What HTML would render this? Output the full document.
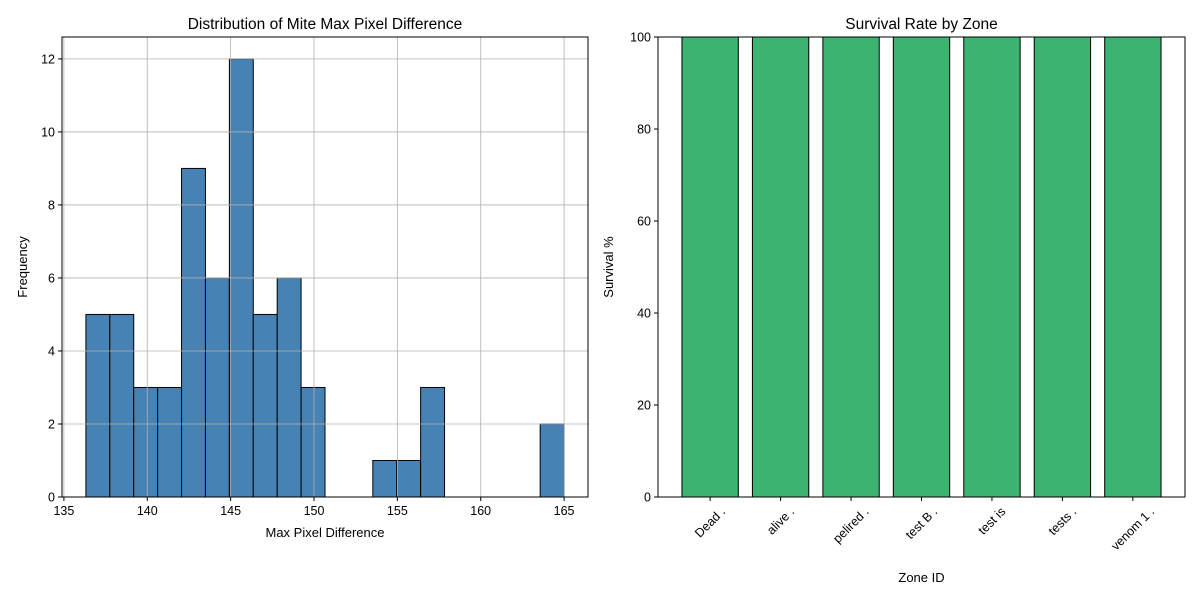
<!DOCTYPE html>
<html><head><meta charset="utf-8"><style>
body{margin:0;background:#fff}
svg{display:block;font-family:"Liberation Sans","DejaVu Sans",sans-serif}
</style></head><body>
<svg id="c" width="1200" height="600" viewBox="0 0 1200 600" xmlns="http://www.w3.org/2000/svg"></svg>
<script>
const histCounts=[5,5,3,3,9,6,12,5,6,3,0,0,1,1,3,0,0,0,0,2];
const histMin=136.32, histMax=165.0;
const histXTicks=[135,140,145,150,155,160,165];
const histYTicks=[0,2,4,6,8,10,12];
const zones=["Dead .","alive .","pelired .","test B .","test is","tests .","venom 1 ."];
const survival=[100,100,100,100,100,100,100];
const survYTicks=[0,20,40,60,80,100];

const NS="http://www.w3.org/2000/svg";
const svg=document.getElementById('c');
function mk(tag,attrs,parent,text){const e=document.createElementNS(NS,tag);for(const k in attrs)e.setAttribute(k,attrs[k]);if(text!==undefined)e.textContent=text;(parent||svg).appendChild(e);return e;}

// Left histogram
const L={x0:62,x1:588,y0:37,y1:497};
const span=histMax-histMin, xmin=histMin-span*0.05, xmax=histMax+span*0.05;
const hx=v=>L.x0+(v-xmin)/(xmax-xmin)*(L.x1-L.x0);
const ymaxH=Math.max(...histCounts)*1.05;
const hy=v=>L.y1-v/ymaxH*(L.y1-L.y0);
const gL=mk('g',{});

const bw=span/histCounts.length;
histCounts.forEach((c,i)=>{
  const a=histMin+i*bw,b=a+bw;
  const r=mk('rect',{x:hx(a),y:hy(c),width:hx(b)-hx(a),height:hy(0)-hy(c),fill:'#4682b4',stroke:'#000','stroke-width':1},gL);
  
  
});
histXTicks.forEach(t=>{
  const x=hx(t);
  const g=mk('line',{x1:x,x2:x,y1:L.y0,y2:L.y1,stroke:'#b0b0b0','stroke-width':0.8},gL);
  
  mk('line',{x1:x,x2:x,y1:L.y1,y2:L.y1+4,stroke:'#000'},gL);
  const tx=mk('text',{x:x,y:L.y1+18,'text-anchor':'middle','font-size':12.5},gL,t);
  
});
histYTicks.forEach(t=>{
  const y=hy(t);
  const g=mk('line',{x1:L.x0,x2:L.x1,y1:y,y2:y,stroke:'#b0b0b0','stroke-width':0.8},gL);
  
  mk('line',{x1:L.x0-4,x2:L.x0,y1:y,y2:y,stroke:'#000'},gL);
  const tx=mk('text',{x:L.x0-7,y:y+4.5,'text-anchor':'end','font-size':12.5},gL,t);
  
});
mk('rect',{x:L.x0,y:L.y0,width:L.x1-L.x0,height:L.y1-L.y0,fill:'none',stroke:'#000','stroke-width':1},gL);
let t1=mk('text',{x:(L.x0+L.x1)/2,y:29,'text-anchor':'middle','font-size':15.5},gL,'Distribution of Mite Max Pixel Difference');

let t2=mk('text',{x:(L.x0+L.x1)/2,y:537,'text-anchor':'middle','font-size':13},gL,'Max Pixel Difference');

let t3=mk('text',{x:27,y:(L.y0+L.y1)/2,'text-anchor':'middle','font-size':13,transform:`rotate(-90 27 ${(L.y0+L.y1)/2})`},gL,'Frequency');


// Right bar chart
const R={x0:658,x1:1185,y0:37,y1:497};
const n=zones.length;
const bxmin=-0.4-(n-0.2)*0.05, bxmax=n-1+0.4+(n-0.2)*0.05;
const bx=v=>R.x0+(v-bxmin)/(bxmax-bxmin)*(R.x1-R.x0);
const by=v=>R.y1-v/100*(R.y1-R.y0);
const gR=mk('g',{});

survival.forEach((v,i)=>{
  const r=mk('rect',{x:bx(i-0.4),y:by(v),width:bx(i+0.4)-bx(i-0.4),height:by(0)-by(v),fill:'#3cb371',stroke:'#000','stroke-width':1},gR);
  
  
  const x=bx(i);
  mk('line',{x1:x,x2:x,y1:R.y1,y2:R.y1+4,stroke:'#000'},gR);
  const tx=mk('text',{x:x,y:0,'text-anchor':'middle','dominant-baseline':'central','font-size':12.5},gR,zones[i]);
  
  
  const len=tx.getComputedTextLength(), h=12.5;
  const cy=R.y1+8+(len+h)*0.7071/2;
  tx.setAttribute('y',cy);
  tx.setAttribute('transform',`rotate(-45 ${x} ${cy})`);
});
survYTicks.forEach(t=>{
  const y=by(t);
  mk('line',{x1:R.x0-4,x2:R.x0,y1:y,y2:y,stroke:'#000'},gR);
  const tx=mk('text',{x:R.x0-7,y:y+4.5,'text-anchor':'end','font-size':12.5},gR,t);
  
});
mk('rect',{x:R.x0,y:R.y0,width:R.x1-R.x0,height:R.y1-R.y0,fill:'none',stroke:'#000','stroke-width':1},gR);
let t4=mk('text',{x:(R.x0+R.x1)/2,y:29,'text-anchor':'middle','font-size':15.5},gR,'Survival Rate by Zone');

let t5=mk('text',{x:(R.x0+R.x1)/2,y:582,'text-anchor':'middle','font-size':13},gR,'Zone ID');

let t6=mk('text',{x:613,y:(R.y0+R.y1)/2,'text-anchor':'middle','font-size':13,transform:`rotate(-90 613 ${(R.y0+R.y1)/2})`},gR,'Survival %');

</script>
</body></html>
